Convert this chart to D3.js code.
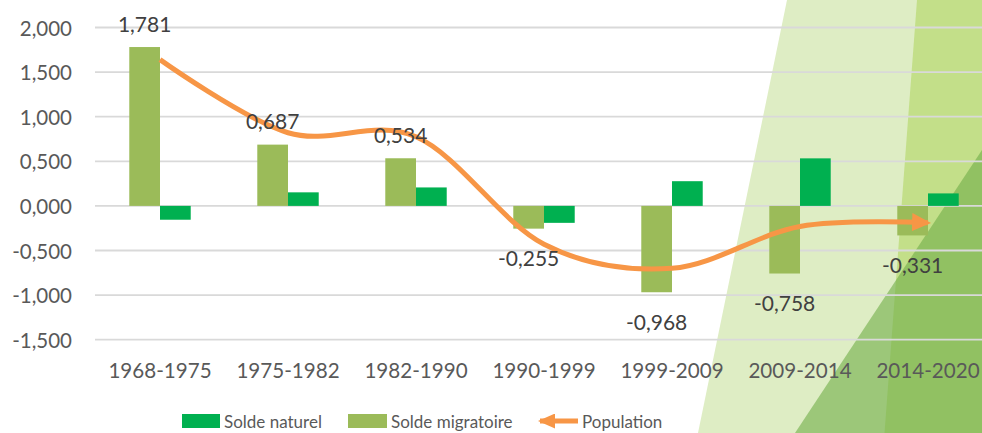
<!DOCTYPE html>
<html><head><meta charset="utf-8">
<script src="https://cdn.jsdelivr.net/npm/d3@7"></script>
<style>html,body{margin:0;padding:0;background:#fff;overflow:hidden} svg{display:block}</style>
</head><body><svg id="c" width="982" height="433"></svg>
<script>
const categories = ["1968-1975","1975-1982","1982-1990","1990-1999","1999-2009","2009-2014","2014-2020"];
const soldeMigratoire = [1.781, 0.687, 0.534, -0.255, -0.968, -0.758, -0.331];
const soldeNaturel = [-0.155, 0.152, 0.207, -0.19, 0.277, 0.533, 0.14];
const population = [1.64, 0.82, 0.775, -0.43, -0.70, -0.23, -0.19];
const yTicks = [2, 1.5, 1, 0.5, 0, -0.5, -1, -1.5];
const seriesNames = ["Solde naturel", "Solde migratoire", "Population"];

const C_NAT = "#00B050", C_MIG = "#9BBB59", C_POP = "#F79646";
const FONT = "Lato, 'Open Sans', sans-serif";
const W = 982, H = 433;
const svg = d3.select("#c");

// decorative background
const bg = svg.append("g");
bg.append("polygon").attr("points", "787,0 982,0 982,433 698,433").attr("fill", "#DEEDC4");
bg.append("polygon").attr("points", "917,0 982,0 982,433 884.5,433").attr("fill", "#C3DF89");
bg.append("polygon").attr("points", "982,150 795,433 982,433").attr("fill", "#70AD47").attr("fill-opacity", 0.6);

const fr = d3.formatLocale({decimal: ",", thousands: " ", grouping: [3], currency: ["", " €"], minus: "-"});
const fmt = fr.format(".3f");

const x = d3.scaleBand().domain(categories).range([96, 992]).paddingInner(0.52).paddingOuter(0.26);
const x1 = d3.scaleBand().domain(["mig", "nat"]).range([0, x.bandwidth()]);
const y = d3.scaleLinear().domain([-1.5, 2]).range([339.7, 27.5]);

// gridlines
svg.append("g").selectAll("line").data(yTicks).join("line")
  .attr("x1", 95).attr("x2", W).attr("y1", d => y(d)).attr("y2", d => y(d))
  .attr("stroke", "#D9D9D9").attr("stroke-width", 1.8);

// y tick labels
svg.append("g").selectAll("text").data(yTicks).join("text")
  .attr("x", 72).attr("y", d => y(d)).attr("text-anchor", "end").attr("dominant-baseline", "central")
  .attr("font-family", FONT).attr("font-size", 20.5).attr("fill", "#595959").text(d => fmt(d));

// category labels
svg.append("g").selectAll("text").data(categories).join("text")
  .attr("x", d => x(d) + x.bandwidth() / 2).attr("y", 370).attr("text-anchor", "middle").attr("dominant-baseline", "central")
  .attr("font-family", FONT).attr("font-size", 20.6).attr("fill", "#595959").text(d => d);

// bars
const rows = categories.map((c, i) => ({c, mig: soldeMigratoire[i], nat: soldeNaturel[i]}));
svg.append("g").selectAll("rect").data(rows).join("rect")
  .attr("x", d => x(d.c) + x1("mig")).attr("width", x1.bandwidth())
  .attr("y", d => y(Math.max(0, d.mig))).attr("height", d => Math.abs(y(d.mig) - y(0)))
  .attr("fill", C_MIG);
svg.append("g").selectAll("rect").data(rows).join("rect")
  .attr("x", d => x(d.c) + x1("nat")).attr("width", x1.bandwidth())
  .attr("y", d => y(Math.max(0, d.nat))).attr("height", d => Math.abs(y(d.nat) - y(0)))
  .attr("fill", C_NAT);

// arrow marker
const defs = svg.append("defs");
defs.append("marker").attr("id", "arr").attr("markerUnits", "userSpaceOnUse")
  .attr("markerWidth", 19).attr("markerHeight", 18).attr("viewBox", "0 0 19 18")
  .attr("refX", 16).attr("refY", 9).attr("orient", "auto")
  .append("path").attr("d", "M0,0 L19,9 L0,18 Z").attr("fill", C_POP);
defs.append("marker").attr("id", "arrS").attr("markerUnits", "userSpaceOnUse")
  .attr("markerWidth", 17).attr("markerHeight", 15).attr("viewBox", "0 0 17 15")
  .attr("refX", 15).attr("refY", 7.5).attr("orient", "auto")
  .append("path").attr("d", "M0,0 L17,7.5 L0,15 Z").attr("fill", C_POP);

// population line
const line = d3.line().x((d, i) => x(categories[i]) + x.bandwidth() / 2).y(d => y(d)).curve(d3.curveCardinal.tension(0));
svg.append("path").datum(population).attr("d", line).attr("fill", "none")
  .attr("stroke", C_POP).attr("stroke-width", 5).attr("marker-end", "url(#arr)");

// data labels (solde migratoire)
svg.append("g").selectAll("text").data(rows).join("text")
  .attr("x", d => x(d.c) + x1("mig") + x1.bandwidth() / 2)
  .attr("y", d => d.mig >= 0 ? y(d.mig) - 24 : y(d.mig) + 29)
  .attr("text-anchor", "middle").attr("dominant-baseline", "central")
  .attr("font-family", FONT).attr("font-size", 21).attr("fill", "#404040").text(d => fmt(d.mig));

// legend
const lg = svg.append("g").attr("font-family", FONT).attr("font-size", 17).attr("fill", "#595959");
const ly = 421;
lg.append("rect").attr("x", 182).attr("y", ly - 7).attr("width", 38).attr("height", 14).attr("fill", C_NAT);
lg.append("text").attr("x", 224).attr("y", ly).attr("dominant-baseline", "central").text(seriesNames[0]);
lg.append("rect").attr("x", 348).attr("y", ly - 7).attr("width", 39).attr("height", 14).attr("fill", C_MIG);
lg.append("text").attr("x", 391).attr("y", ly).attr("dominant-baseline", "central").text(seriesNames[1]);
lg.append("line").attr("x1", 578).attr("x2", 540).attr("y1", ly).attr("y2", ly)
  .attr("stroke", C_POP).attr("stroke-width", 5).attr("marker-end", "url(#arrS)");
lg.append("text").attr("x", 582).attr("y", ly).attr("dominant-baseline", "central").text(seriesNames[2]);
</script></body></html>
